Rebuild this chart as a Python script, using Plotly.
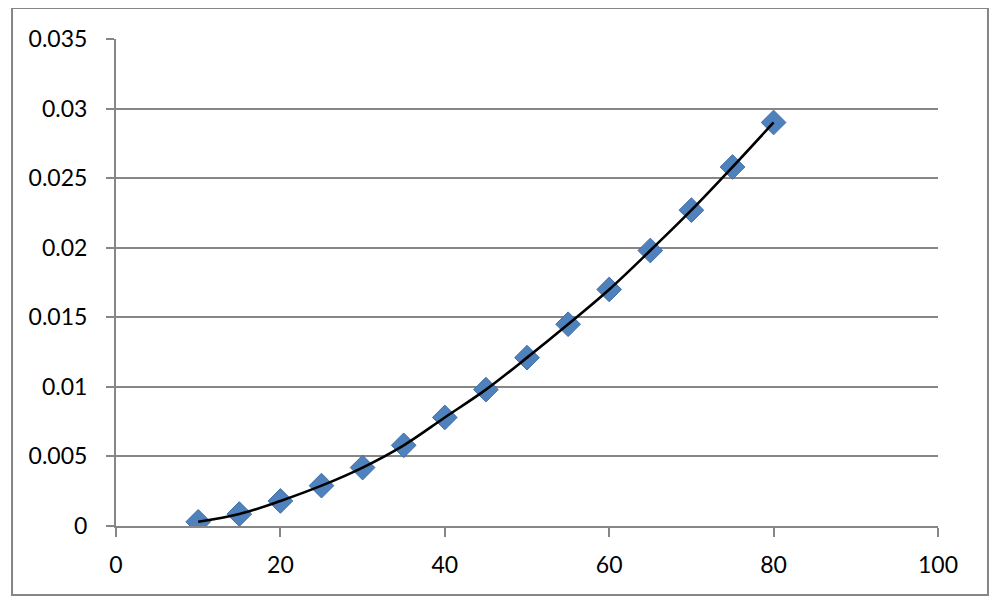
import plotly.graph_objects as go

x_vals = [10, 15, 20, 25, 30, 35, 40, 45, 50, 55, 60, 65, 70, 75, 80]
y_vals = [0.0003, 0.00086, 0.0018, 0.0029, 0.0042, 0.0058, 0.0078, 0.0098,
          0.0121, 0.0145, 0.0170, 0.0198, 0.0227, 0.0258, 0.0290]
x_ticks = [0, 20, 40, 60, 80, 100]
y_ticks = [0, 0.005, 0.01, 0.015, 0.02, 0.025, 0.03, 0.035]
y_tick_text = ["0", "0.005", "0.01", "0.015", "0.02", "0.025", "0.03", "0.035"]

fig = go.Figure()
fig.add_trace(go.Scatter(
    x=x_vals, y=y_vals, mode="markers",
    marker=dict(symbol="diamond", size=19, color="#4F81BD",
                line=dict(width=1, color="#3F6FA8")),
    showlegend=False))
fig.add_trace(go.Scatter(
    x=x_vals, y=y_vals, mode="lines", line_shape="spline",
    line=dict(color="black", width=2.6), showlegend=False))

font = dict(family="Lato, Open Sans, sans-serif", size=23, color="black")
fig.update_layout(
    width=992, height=596,
    margin=dict(l=108, r=62, t=31, b=78),
    paper_bgcolor="white", plot_bgcolor="white",
    font=font,
    xaxis=dict(range=[0, 100], tickvals=x_ticks, showgrid=False,
               showline=True, linecolor="#868686", linewidth=2,
               ticks="outside", ticklen=9, tickwidth=2, tickcolor="#868686",
               zeroline=False, tickfont=font, ticklabelstandoff=8),
    yaxis=dict(range=[0, 0.035], tickvals=y_ticks, ticktext=y_tick_text,
               showgrid=True, gridcolor="#868686", gridwidth=2,
               showline=True, linecolor="#868686", linewidth=2,
               ticks="outside", ticklen=8, tickwidth=2, tickcolor="#868686",
               zeroline=False, tickfont=font, ticklabelstandoff=14),
    shapes=[dict(type="rect", xref="paper", yref="paper",
                 x0=-0.1265, x1=1.0608, y0=-0.1417, y1=1.0637,
                 line=dict(color="#868686", width=2), layer="below")],
)
fig.write_html("out.html")
